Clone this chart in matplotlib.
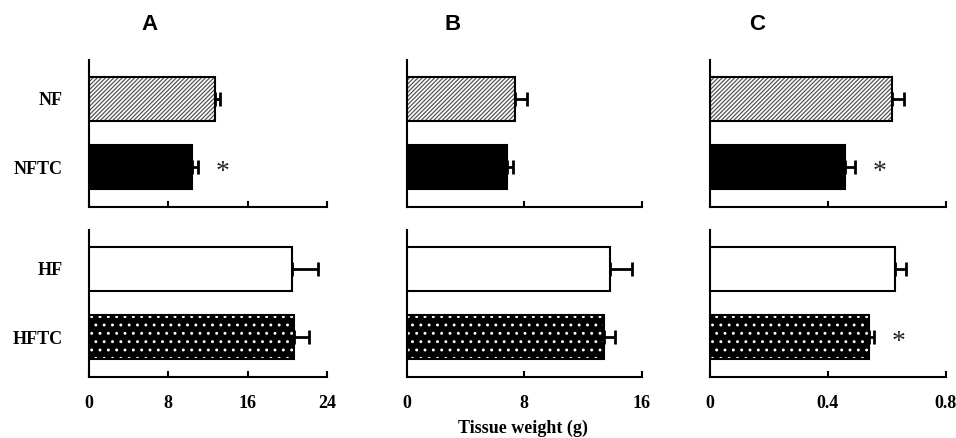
import matplotlib.pyplot as plt

# group labels, top row first
groups = ['NF', 'NFTC', 'HF', 'HFTC']
panels = ['A', 'B', 'C']

# tissue weights (g) and error, one list per panel, order as in groups
means_a = [12.7, 10.4, 20.5, 20.7]
errs_a = [0.5, 0.55, 2.6, 1.5]
means_b = [7.4, 6.8, 13.8, 13.4]
errs_b = [0.75, 0.4, 1.55, 0.8]
means_c = [0.617, 0.458, 0.628, 0.541]
errs_c = [0.042, 0.034, 0.037, 0.014]

# significance marks
sig_a = [False, True, False, False]
sig_b = [False, False, False, False]
sig_c = [False, True, False, True]

xmax = [24, 16, 0.8]
xticks = [[0, 8, 16, 24], [0, 8, 16], [0, 0.4, 0.8]]
xticklabels = [['0', '8', '16', '24'], ['0', '8', '16'], ['0', '0.4', '0.8']]

means = [means_a, means_b, means_c]
errs = [errs_a, errs_b, errs_c]
sigs = [sig_a, sig_b, sig_c]

# bar styles per group
faces = ['white', 'black', 'white', 'black']
hatches = ['////////', None, None, '..']
hatch_colors = ['#555555', None, None, 'white']

serif = 'Liberation Serif'
sans = 'Liberation Sans'

plt.rcParams['hatch.linewidth'] = 0.9

fig = plt.figure(figsize=(9.56, 4.38), dpi=100)

# axes layout in figure fractions
lefts = [0.0931, 0.4254, 0.7427]
widths = [0.249, 0.2461, 0.2466]
bottoms = [0.527, 0.139]
height = 0.336
bar_h = 0.65

for p in range(3):
    for r in range(2):
        ax = fig.add_axes([lefts[p], bottoms[r], widths[p], height])
        idx = [2 * r, 2 * r + 1]
        ypos = [1, 0]
        for y, g in zip(ypos, idx):
            m = means[p][g]
            e = errs[p][g]
            if hatches[g]:
                ax.barh(y, m, height=bar_h, color=faces[g],
                        edgecolor=hatch_colors[g], hatch=hatches[g],
                        linewidth=0, zorder=2)
                ax.barh(y, m, height=bar_h, color='none',
                        edgecolor='black', linewidth=1.5, zorder=3)
            else:
                ax.barh(y, m, height=bar_h, color=faces[g],
                        edgecolor='black', linewidth=1.5, zorder=3)
            ax.errorbar(m, y, xerr=[[0], [e]], fmt='none', ecolor='black',
                        elinewidth=2, capsize=4.7, capthick=2, zorder=4)
            if sigs[p][g]:
                ax.annotate('*', xy=(m + e, y), xytext=(18, -8.5),
                            textcoords='offset points', ha='center',
                            va='baseline', fontsize=20, family=serif,
                            color='#222222')

        ax.set_xlim(0, xmax[p])
        ax.set_ylim(-0.587, 1.572)
        for side in ['top', 'right']:
            ax.spines[side].set_visible(False)
        for side in ['left', 'bottom']:
            ax.spines[side].set_linewidth(1.5)

        ax.set_xticks(xticks[p])
        ax.tick_params(axis='x', direction='in', length=4, width=1.5, pad=13)
        if r == 1:
            ax.set_xticklabels(xticklabels[p], family=serif,
                               fontweight='bold', fontsize=13)
        else:
            ax.set_xticklabels([])

        if p == 0:
            ax.set_yticks(ypos)
            ax.set_yticklabels([groups[i] for i in idx], family=serif,
                               fontweight='bold', fontsize=13)
            ax.tick_params(axis='y', length=0, pad=19)
        else:
            ax.set_yticks([])

title_x = [150, 453, 757]
for p in range(3):
    fig.text(title_x[p] / 956, 1 - 25 / 438, panels[p], ha='center',
             va='center', family=sans, fontweight='bold', fontsize=16)

fig.text(523 / 956, 1 - 428 / 438, 'Tissue weight (g)', ha='center',
         va='center', family=serif, fontweight='bold', fontsize=13)

fig.savefig('out.png', dpi=100)
